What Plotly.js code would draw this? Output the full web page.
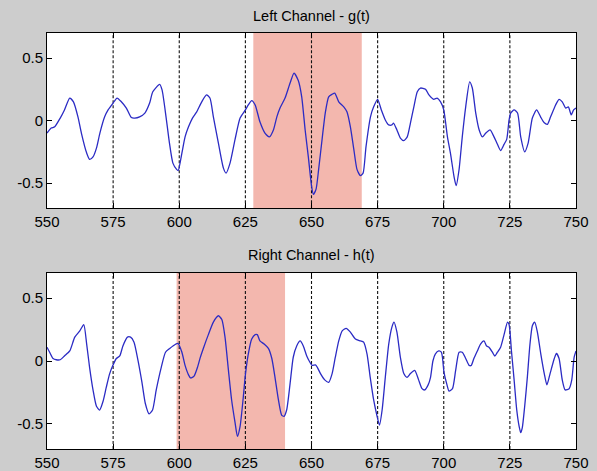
<!DOCTYPE html>
<html>
<head>
<meta charset="utf-8">
<script src="https://cdn.plot.ly/plotly-3.0.1.min.js"></script>
<style>html,body{margin:0;padding:0;background:#cdcdcd;}#chart{width:597px;height:471px;}</style>
</head>
<body>
<div id="chart"></div>
<script>
// ---- data ----
const tLeft = [550,551.6,552.9,555,556.6,558.6,560,561.7,563,565,566.1,567.4,568.7,570,571.8,573.1,575,576.5,578.1,580,581.9,583.2,585,587,588.8,590,592.6,593.5,595,596.3,597.6,599,599.6,601,602.2,603.5,605,606.6,608.5,610.3,611.6,612.9,614.8,616.7,617.7,619.2,621.1,623,625,626.1,627.4,628.7,630.5,632.4,634.1,635.6,636.9,638.1,640,641.9,643.4,645,646.3,647.6,648.8,650,650.7,651.7,652.7,654,655.2,656.5,657.8,658.8,660.3,662.2,663.4,664.7,666,667.2,668.5,669.5,670.6,672.3,673.5,675,676.4,677.9,679.2,680.4,681,682.3,683.6,684.9,686.2,687.4,688.7,690,691.2,693.1,694.4,696.2,697.5,698.8,700,701.4,702.6,703.9,704.7,705.8,707,708.3,709.8,710.8,712.1,713.4,714.6,715.9,717.5,719,720.3,721.5,722.8,723.8,724.7,725.3,726.6,727.9,729.1,730.6,731.9,733.5,735.1,736.6,737.9,739.2,740.4,742.3,743.6,744.8,746.1,747.1,748.2,749.1,750];
const gValues = [-0.10,-0.06,-0.05,0.02,0.085,0.18,0.15,0.03,-0.10,-0.26,-0.31,-0.29,-0.22,-0.10,0.03,0.085,0.14,0.18,0.15,0.10,0.024,0.02,0.03,0.06,0.14,0.23,0.29,0.245,0.03,-0.18,-0.34,-0.39,-0.40,-0.26,-0.13,-0.05,0.02,0.07,0.15,0.205,0.18,0.03,-0.18,-0.38,-0.42,-0.34,-0.15,0.02,0.085,0.125,0.16,0.125,-0.01,-0.10,-0.13,-0.075,0.03,0.10,0.18,0.30,0.38,0.32,0.19,-0.075,-0.29,-0.52,-0.59,-0.55,-0.39,-0.15,0.06,0.19,0.21,0.22,0.15,0.11,0.07,-0.05,-0.23,-0.39,-0.44,-0.42,-0.21,0.03,0.11,0.17,0.085,0.005,-0.035,-0.035,-0.02,-0.075,-0.14,-0.16,-0.13,-0.02,0.11,0.23,0.26,0.25,0.205,0.17,0.18,0.15,0.085,-0.13,-0.27,-0.45,-0.52,-0.39,-0.13,0.11,0.31,0.26,0.06,-0.075,-0.13,-0.10,-0.075,-0.13,-0.19,-0.24,-0.19,-0.15,0.005,0.06,0.085,0.06,-0.13,-0.25,-0.18,0.02,0.085,0.03,-0.015,-0.03,0.03,0.125,0.17,0.15,0.10,0.11,0.045,0.085,0.10];

const tRight = [550,551,552.3,553.5,555,556.6,558.6,560.5,562.4,563.9,565,566.1,567.4,568.7,569.9,571.2,572.4,573.7,575,576.2,577.5,578.7,580.4,581.6,582.9,584.4,585.9,587.2,588.6,589.9,591.3,593.2,594.8,596.4,597.6,599.5,601,602.2,603.5,604.3,605.6,606.9,607.9,609.1,611,612.9,614.8,616.1,617.3,618.6,619.8,621.1,622,623,624.2,625,626.1,627.4,628.7,629.5,630.5,632.1,633.7,635,636.2,637.5,638.7,639.6,640.6,641.9,643.1,644.4,645.7,646.9,648.2,649.4,650.2,651.5,652.2,653.4,655,656.5,657.8,659,660.3,661.6,663.1,664.7,666.6,668.5,669.7,671,672.2,673.5,674.8,675.7,676.7,677.9,679.2,680.4,681.2,682.3,683.6,684.9,686.1,687.4,689,690.5,691.8,692.8,694.1,695,695.9,696.8,698.1,699.1,699.5,700.1,701.1,702,703.3,704.5,705.8,707,708.3,709.6,710.4,711.4,712.7,713.9,715.2,716.2,717.1,718.4,719.3,720.3,721.5,722.8,724.1,724.7,725.6,726.6,727.6,728.5,729.1,729.7,730.6,731.6,732.6,733.5,734.4,735.4,736.7,738,739,740.2,741.8,742.6,743.6,744.8,745.9,747.4,748.4,749.3,750];
const hValues = [0.11,0.07,0.02,0.01,0.01,0.04,0.08,0.19,0.24,0.29,0.135,-0.05,-0.23,-0.36,-0.39,-0.32,-0.21,-0.10,-0.03,0.02,0.04,0.12,0.19,0.19,0.15,0.005,-0.17,-0.34,-0.42,-0.39,-0.23,-0.05,0.07,0.10,0.12,0.14,0.07,-0.035,-0.11,-0.135,-0.12,-0.05,0.025,0.10,0.21,0.31,0.36,0.33,0.19,-0.075,-0.31,-0.49,-0.60,-0.52,-0.29,-0.11,0.055,0.175,0.21,0.21,0.16,0.135,0.10,0.02,-0.13,-0.31,-0.43,-0.44,-0.39,-0.18,0.03,0.12,0.16,0.12,0.04,-0.01,-0.035,-0.03,-0.05,-0.10,-0.15,-0.17,-0.10,0.03,0.16,0.24,0.26,0.23,0.175,0.16,0.15,0.055,-0.13,-0.31,-0.44,-0.51,-0.39,-0.13,0.135,0.27,0.31,0.23,0.03,-0.10,-0.13,-0.10,-0.075,-0.15,-0.22,-0.23,-0.19,-0.13,0.00,0.055,0.08,0.07,0.03,-0.09,-0.18,-0.24,-0.22,-0.075,0.07,0.07,0.02,-0.035,-0.035,0.02,0.08,0.135,0.16,0.12,0.11,0.07,0.04,0.07,0.11,0.21,0.31,0.29,0.08,-0.15,-0.39,-0.52,-0.57,-0.53,-0.36,-0.13,0.135,0.28,0.31,0.23,0.055,-0.10,-0.19,-0.10,0.02,0.06,0.02,-0.15,-0.23,-0.22,-0.15,0.03,0.08];

const xTicks = [550,575,600,625,650,675,700,725,750];
const yTicks = [-0.5,0,0.5];
const yTickText = ['-0.5','0','0.5'];
const markerLines = [575,600,625,650,675,700,725];
const leftWindow = [628,669];
const rightWindow = [599,640];
const titles = ['Left Channel - g(t)','Right Channel - h(t)'];

// ---- chart ----
const lineColor = '#2b2bc4';
const traces = [
  {x: tLeft, y: gValues, xaxis: 'x', yaxis: 'y', type: 'scatter', mode: 'lines',
   line: {color: lineColor, width: 1.3, shape: 'spline', smoothing: 0.6}, hoverinfo: 'skip'},
  {x: tRight, y: hValues, xaxis: 'x2', yaxis: 'y2', type: 'scatter', mode: 'lines',
   line: {color: lineColor, width: 1.3, shape: 'spline', smoothing: 0.6}, hoverinfo: 'skip'}
];

const font = {family: 'Liberation Sans, Arial, sans-serif', size: 15, color: '#000'};
function xAxis(anchor) {
  return {anchor: anchor, range: [550, 750], tickvals: xTicks, ticktext: xTicks.map(String),
    ticks: 'inside', ticklen: 5, tickcolor: '#000', showline: true, linecolor: '#000', linewidth: 1,
    mirror: 'ticks', showgrid: false, zeroline: false, tickfont: font, fixedrange: true};
}
function yAxis(anchor, domain) {
  return {anchor: anchor, domain: domain, range: [-0.7, 0.7], tickvals: yTicks, ticktext: yTickText,
    ticks: 'inside', ticklen: 5, tickcolor: '#000', showline: true, linecolor: '#000', linewidth: 1,
    mirror: 'ticks', showgrid: false, zeroline: false, tickfont: font, fixedrange: true};
}

const shapes = [];
function addPanel(xref, yref, win) {
  shapes.push({type: 'rect', xref: xref, yref: yref + ' domain', x0: win[0], x1: win[1], y0: 0, y1: 1,
    fillcolor: '#f3b7ae', line: {width: 0}, layer: 'below'});
  markerLines.forEach(v => shapes.push({type: 'line', xref: xref, yref: yref + ' domain',
    x0: v, x1: v, y0: 0, y1: 1, line: {color: '#111', width: 1.1, dash: '3px,2px'}, layer: 'below'}));
}
addPanel('x', 'y', leftWindow);
addPanel('x2', 'y2', rightWindow);

const layout = {
  width: 597, height: 471,
  margin: {l: 47, r: 21, t: 33, b: 22, pad: 0},
  paper_bgcolor: '#cdcdcd', plot_bgcolor: '#ffffff',
  showlegend: false,
  font: font,
  xaxis: xAxis('y'),
  yaxis: yAxis('x', [0.579, 1]),
  xaxis2: xAxis('y2'),
  yaxis2: yAxis('x2', [0, 0.423]),
  shapes: shapes,
  annotations: [
    {text: titles[0], xref: 'paper', yref: 'paper', x: 0.5, y: 1.042, xanchor: 'center', yanchor: 'middle',
     showarrow: false, font: {family: font.family, size: 14.5, color: '#000'}},
    {text: titles[1], xref: 'paper', yref: 'paper', x: 0.5, y: 0.466, xanchor: 'center', yanchor: 'middle',
     showarrow: false, font: {family: font.family, size: 14.5, color: '#000'}}
  ]
};

Plotly.newPlot('chart', traces, layout, {staticPlot: true, displayModeBar: false});
</script>
</body>
</html>
